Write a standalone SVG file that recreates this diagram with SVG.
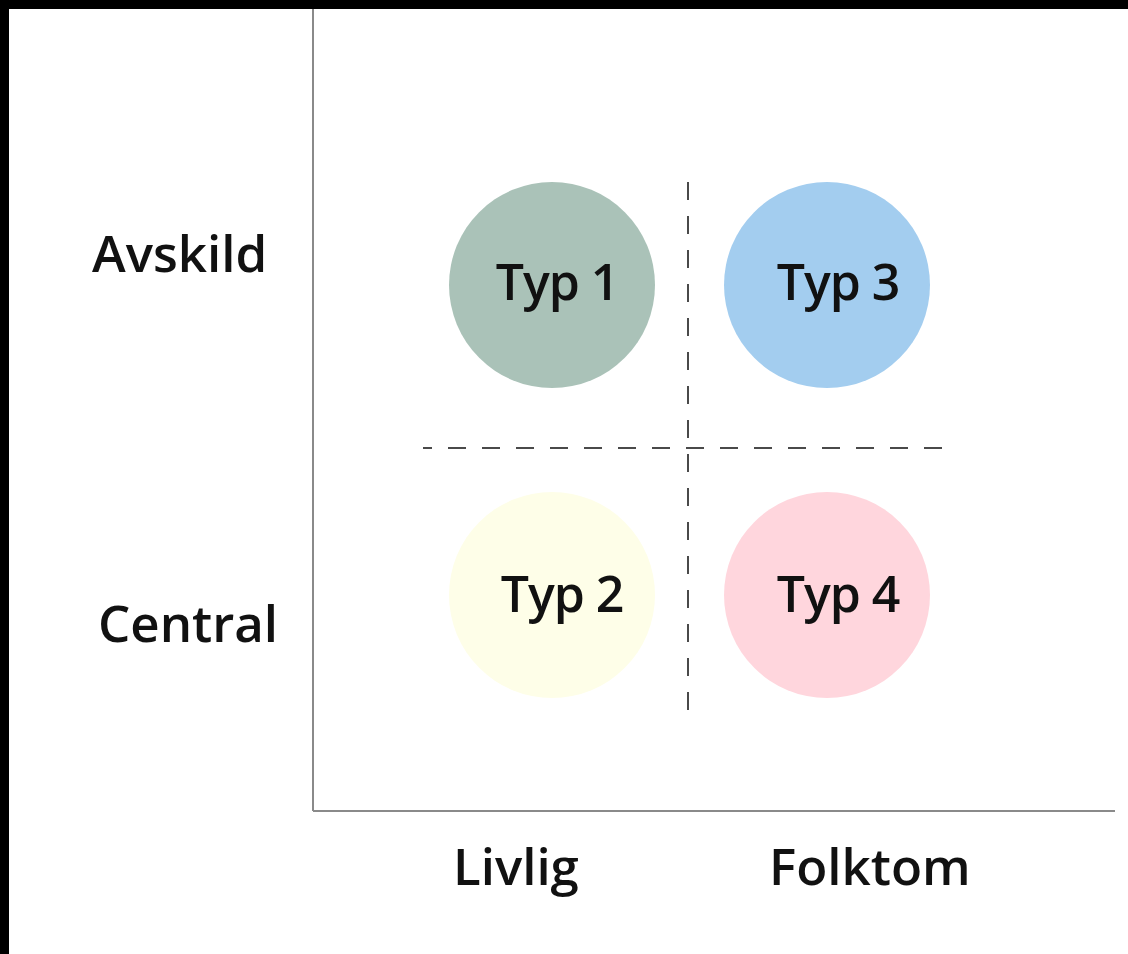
<svg xmlns="http://www.w3.org/2000/svg" width="1128" height="954" viewBox="0 0 1128 954">
<style>
.lbl{font-family:"Open Sans","Noto Sans",sans-serif;font-size:51px;font-weight:600;fill:#111;}
.typ{font-family:"Open Sans","Noto Sans",sans-serif;font-size:50px;font-weight:600;fill:#111;text-anchor:middle;letter-spacing:-1px;}
.axis{stroke:#8a8a8a;stroke-width:2;fill:none;}
.dash{stroke:#4a4a4a;stroke-width:2;stroke-dasharray:18 16;fill:none;}
</style>
<rect x="0" y="0" width="1128" height="954" fill="#ffffff"/>
<rect x="0" y="0" width="1128" height="9" fill="#000"/>
<rect x="0" y="0" width="9" height="954" fill="#000"/>
<g id="connectors">
<line class="axis" x1="313" y1="9" x2="313" y2="811"/>
<line class="axis" x1="313" y1="811" x2="1115" y2="811"/>
<line class="dash" x1="423" y1="448" x2="957" y2="448" stroke-dashoffset="9"/>
<line class="dash" x1="688" y1="182" x2="688" y2="717"/>
</g>
<g id="label-avskild"><text class="lbl" x="92" y="272">Avskild</text></g>
<g id="label-central"><text class="lbl" x="98" y="642">Central</text></g>
<g id="label-livlig"><text class="lbl" x="453" y="885">Livlig</text></g>
<g id="label-folktom"><text class="lbl" x="769" y="885">Folktom</text></g>
<g id="typ1"><circle cx="552" cy="285" r="103" fill="#aac2b8"/><text class="typ" x="557" y="300">Typ 1</text></g>
<g id="typ3"><circle cx="827" cy="285" r="103" fill="#a3cdef"/><text class="typ" x="838" y="300">Typ 3</text></g>
<g id="typ2"><circle cx="552" cy="595" r="103" fill="#fefee8"/><text class="typ" x="562" y="612">Typ 2</text></g>
<g id="typ4"><circle cx="827" cy="595" r="103" fill="#ffd6dd"/><text class="typ" x="838" y="612">Typ 4</text></g>
</svg>
